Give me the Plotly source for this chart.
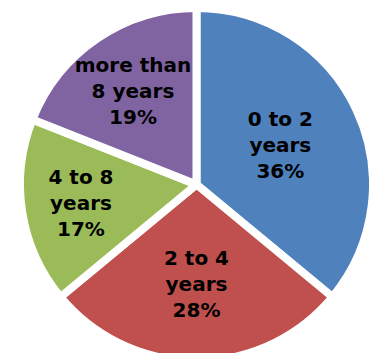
import plotly.graph_objects as go

labels = ["0 to 2 years", "2 to 4 years", "4 to 8 years", "more than 8 years"]
text_lines = ["0 to 2<br>years", "2 to 4<br>years", "4 to 8<br>years", "more than<br>8 years"]
values = [36, 28, 17, 19]
colors = ["#4F81BD", "#C0504D", "#9BBB59", "#8064A2"]

fig = go.Figure(go.Pie(
    labels=labels,
    values=values,
    text=text_lines,
    sort=False,
    direction="clockwise",
    rotation=0,
    marker=dict(colors=colors, line=dict(color="white", width=8)),
    texttemplate="%{text}<br>%{percent:.0%}",
    textposition="inside",
    insidetextorientation="horizontal",
    textfont=dict(family="DejaVu Sans", size=20, color="black", weight="bold"),
    hoverinfo="label+percent",
    showlegend=False,
))
fig.update_layout(
    width=377, height=353,
    margin=dict(l=0, r=0, t=0, b=0),
    paper_bgcolor="white",
    uniformtext=dict(minsize=20, mode="show"),
)
fig.write_html("out.html")
